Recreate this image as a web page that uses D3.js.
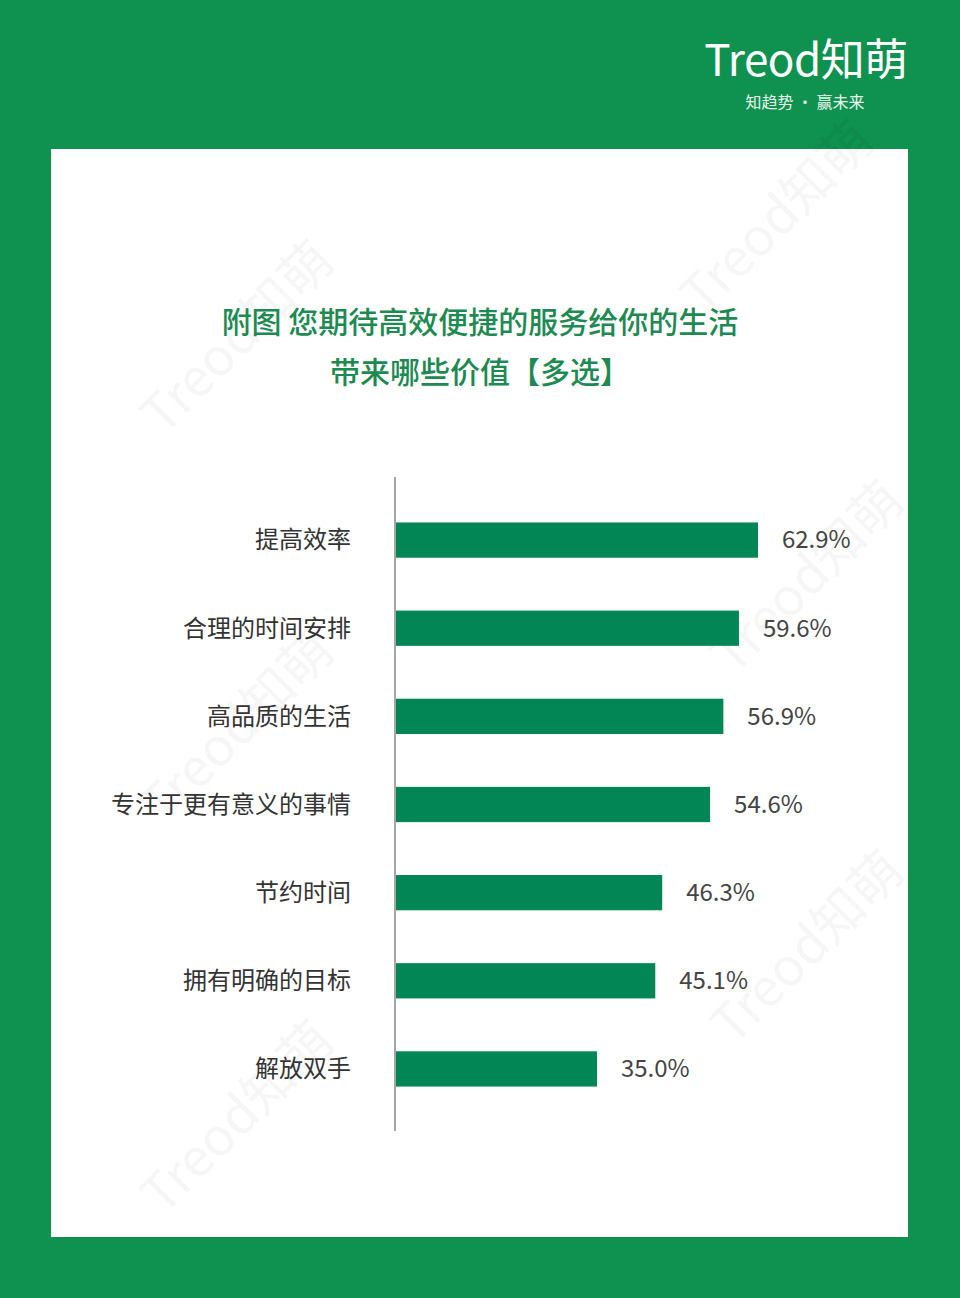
<!DOCTYPE html>
<html><head><meta charset="utf-8">
<script src="https://cdn.jsdelivr.net/npm/d3@7"></script>
<style>
html,body{margin:0;padding:0;background:#0f914f;}
svg{display:block;}
</style></head>
<body>
<svg id="chart" width="960" height="1298"></svg>
<script>
const categories = ["提高效率","合理的时间安排","高品质的生活","专注于更有意义的事情","节约时间","拥有明确的目标","解放双手"];
const values = [62.9, 59.6, 56.9, 54.6, 46.3, 45.1, 35.0];
const valueLabels = ["62.9%","59.6%","56.9%","54.6%","46.3%","45.1%","35.0%"];
const titleLines = ["附图 您期待高效便捷的服务给你的生活","带来哪些价值【多选】"];

const svg = d3.select("#chart");
const font = "'Noto Sans CJK SC','Noto Sans',sans-serif";

svg.append("rect").attr("width",960).attr("height",1298).attr("fill","#0f914f");
svg.append("rect").attr("x",51).attr("y",149).attr("width",857).attr("height",1088).attr("fill","#ffffff");

// watermarks
const wm = [[790,230],[250,350],[250,740],[820,590],[820,960],[250,1130]];
const wmg = svg.append("g");
wm.forEach(([x,y])=>{
  wmg.append("text").attr("transform",`translate(${x},${y}) rotate(-45)`)
    .attr("text-anchor","middle").attr("font-family",font).attr("font-size",52)
    .attr("fill","#000").attr("opacity",0.03).text("Treod知萌");
});

// logo
svg.append("text").attr("x",806).attr("y",76).attr("text-anchor","middle")
  .attr("font-family",font).attr("font-size",44).attr("fill","#fff").attr("letter-spacing",-0.5).text("Treod知萌");
svg.append("text").attr("x",805).attr("y",108).attr("text-anchor","middle")
  .attr("font-family",font).attr("font-size",16).attr("fill","#e8f5ee").text("知趋势 · 赢未来");

// title
svg.selectAll("text.title").data(titleLines).join("text").attr("class","title")
  .attr("x",480).attr("y",(d,i)=>333+i*50).attr("text-anchor","middle")
  .attr("font-family",font).attr("font-size",30).attr("font-weight",500)
  .attr("fill","#1d8a52").text(d=>d);

const x0 = 395;
const x = d3.scaleLinear().domain([0,100]).range([x0, x0+577.1]);
const y = d3.scaleBand().domain(categories).range([496,1113]).paddingInner(0.6).paddingOuter(0.3);

svg.append("line").attr("x1",x0).attr("x2",x0).attr("y1",477).attr("y2",1131)
  .attr("stroke","#a6a6a6").attr("stroke-width",2);

svg.selectAll("rect.bar").data(values).join("rect").attr("class","bar")
  .attr("x",x0+1).attr("y",(d,i)=>y(categories[i]))
  .attr("width",d=>x(d)-x0-1).attr("height",y.bandwidth())
  .attr("fill","#028656");

svg.selectAll("text.val").data(values).join("text").attr("class","val")
  .attr("x",d=>x(d)+24).attr("y",(d,i)=>y(categories[i])+y.bandwidth()/2)
  .attr("dy","0.35em").attr("font-family",font).attr("font-size",24)
  .attr("fill","#444").text((d,i)=>valueLabels[i]);

svg.selectAll("text.cat").data(categories).join("text").attr("class","cat")
  .attr("x",351).attr("y",d=>y(d)+y.bandwidth()/2).attr("dy","0.35em")
  .attr("text-anchor","end").attr("font-family",font).attr("font-size",24)
  .attr("fill","#333").text(d=>d);
</script>
</body></html>
